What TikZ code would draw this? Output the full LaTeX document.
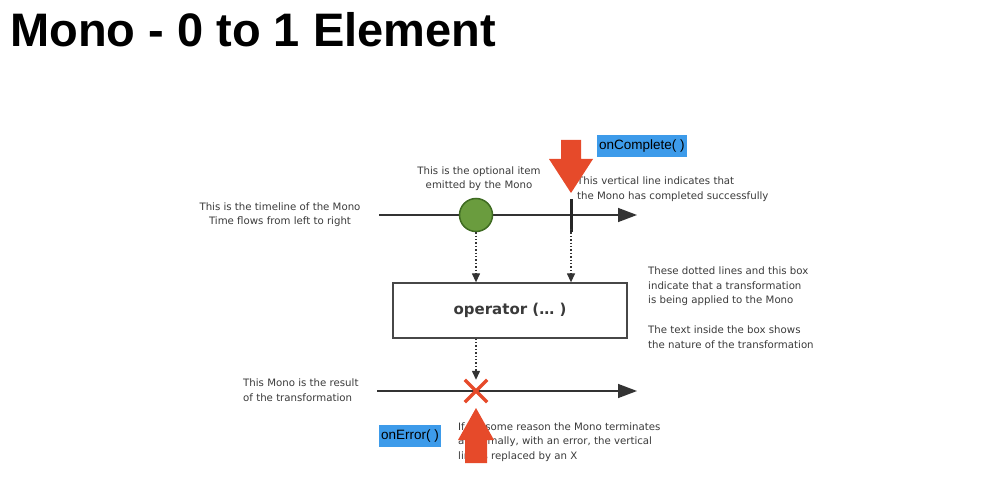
\documentclass[tikz,border=0pt]{standalone}
\usepackage{fontspec}
\setmainfont{DejaVu Sans}
\newfontfamily\helv{Liberation Sans}
\usetikzlibrary{arrows.meta}
\definecolor{txt}{HTML}{3A3A3A}
\definecolor{linec}{HTML}{333333}
\definecolor{redarrow}{HTML}{E64A2A}
\definecolor{bluelab}{HTML}{3D9BEA}
\definecolor{greenfill}{HTML}{6A9C3E}
\definecolor{greenline}{HTML}{3F6B22}
\tikzset{
  note/.style={font=\fontsize{10.2}{14.5}\selectfont, text=txt, inner sep=0pt, align=left},
  notec/.style={font=\fontsize{10.2}{13.5}\selectfont, text=txt, inner sep=0pt, align=center},
  timeline/.style={draw=linec, line width=1.4pt, -{Triangle[length=19pt,width=14pt]}},
  dotarrow/.style={draw=linec, line width=1.3pt, dash pattern=on 1.4pt off 2pt, -{Triangle[length=9pt,width=8pt]}},
  lab/.style={fill=bluelab, font=\helv\fontsize{13.5}{14}\selectfont, text=black, inner xsep=2pt, inner ysep=4.5pt, anchor=north west},
  redarr/.style={fill=redarrow, draw=none}
}
\begin{document}
\begin{tikzpicture}[x=1pt,y=-1pt]
\useasboundingbox (0,0) rectangle (997,481);
% title
\node[anchor=base west, inner sep=0pt, font=\helv\bfseries\fontsize{47}{50}\selectfont] (title) at (10,47) {Mono - 0 to 1 Element};

% top timeline
\coordinate (t1s) at (379,215);
\coordinate (t1e) at (637,215);
\draw[timeline] (t1s) -- (t1e);
\node[circle, fill=greenfill, draw=greenline, line width=1.5pt, minimum size=33pt, inner sep=0pt] (item) at (476,215) {};
\coordinate (vtop) at (571,199);
\coordinate (vbot) at (571,232);
\draw[line width=3pt, draw=black!85] (vtop) -- (vbot);

% operator box
\node[draw=linec!90, line width=1.3pt, minimum width=234pt, minimum height=55pt, inner sep=0pt,
      font=\bfseries\fontsize{15}{16}\selectfont, text=txt] (op) at (510,310.5) {operator (… )};
\draw[dotarrow] (item.south) -- (item.south |- op.north);
\draw[dotarrow] ([yshift=3pt]vbot) -- (vbot |- op.north);

% bottom timeline
\coordinate (t2s) at (377,391);
\coordinate (t2e) at (637,391);
\draw[timeline] (t2s) -- (t2e);
\node[minimum size=22pt, inner sep=0pt] (err) at (476,391) {};
\draw[dotarrow] (op.south -| err) -- (err.north);
\draw[draw=redarrow, line width=3.5pt] (err.north west) -- (err.south east) (err.north east) -- (err.south west);

% texts (base anchor = baseline of last line)
\node[notec, anchor=base] (tl) at (280,224.5) {This is the timeline of the Mono\\Time flows from left to right};
\node[notec, anchor=base] (opt) at (479,188.5) {This is the optional item\\emitted by the Mono};
\node[note, anchor=base west] (vl) at (577,199.5) {This vertical line indicates that\\the Mono has completed successfully};
\node[note, anchor=base west] (tr1) at (648,304) {These dotted lines and this box\\indicate that a transformation\\is being applied to the Mono};
\node[note, anchor=base west] (tr2) at (648,348.5) {The text inside the box shows\\the nature of the transformation};
\node[note, anchor=base west] (res) at (243,401.5) {This Mono is the result\\of the transformation};
\node[note, anchor=base west] (ertx) at (458,459) {If for some reason the Mono terminates\\abnormally, with an error, the vertical\\line is replaced by an X};

% red arrows
\coordinate (ctip) at (571,193);
\fill[redarr] (ctip) -- ++(22,-34) -- ++(-12,0) -- ++(0,-19) -- ++(-20,0) -- ++(0,19) -- ++(-12,0) -- cycle;
\coordinate (etip) at (476,408);
\fill[redarr] (etip) -- ++(18,32) -- ++(-7,0) -- ++(0,23) -- ++(-22,0) -- ++(0,-23) -- ++(-7,0) -- cycle;

% labels
\node[lab] (oncomp) at (597,135) {onComplete( )};
\node[lab] (onerr) at (379,425) {onError( )};
\end{tikzpicture}
\end{document}
